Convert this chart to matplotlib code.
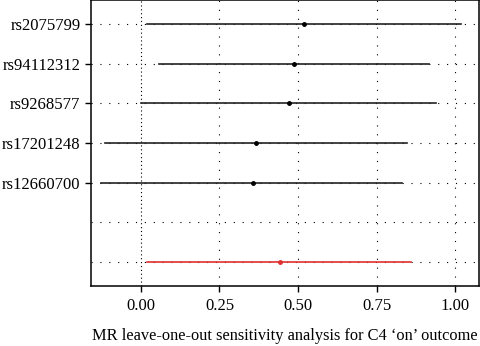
import numpy as np
import matplotlib.pyplot as plt

plt.rcParams['font.family'] = ['Liberation Serif', 'DejaVu Serif']

# SNP leave-one-out estimates (top to bottom)
snps = ['rs2075799', 'rs94112312', 'rs9268577', 'rs17201248', 'rs12660700']
est = [0.520, 0.487, 0.470, 0.366, 0.356]
lower = [0.020, 0.058, 0.000, -0.114, -0.127]
upper = [1.018, 0.918, 0.938, 0.846, 0.832]

# all SNPs combined (red)
all_est = 0.443
all_lower = 0.020
all_upper = 0.859

xticks = [0.00, 0.25, 0.50, 0.75, 1.00]

fig = plt.figure(figsize=(4.8, 3.46), dpi=100)
ax = fig.add_axes([91 / 480, 60 / 346, 388 / 480, 286 / 346])

n = len(snps)
ypos = np.arange(n + 2, 2, -1)  # 7..3
all_y = 1
rows = list(ypos) + [2, all_y]

# grid
grid_kw = dict(color='black', lw=0.8, ls=(0, (1, 7)), zorder=0)
for y in rows:
    ax.axhline(y, **grid_kw)
for x in xticks[1:]:
    ax.axvline(x, **grid_kw)
ax.axvline(0, color='black', lw=0.8, ls=(0, (1, 2.5)), zorder=0)

for y, e, lo, hi in zip(ypos, est, lower, upper):
    ax.plot([lo, hi], [y, y], color='#222222', lw=1.2, zorder=2)
    ax.plot(e, y, 'o', color='black', ms=2.5, zorder=3)

ax.plot([all_lower, all_upper], [all_y, all_y], color='#e03030', lw=1.2, zorder=2)
ax.plot(all_est, all_y, 'o', color='#e03030', ms=2.5, zorder=3)

ax.set_xlim(-0.159, 1.076)
ax.set_ylim(0.4, 7.6)
ax.set_yticks(ypos)
ax.set_yticklabels(snps, fontsize=12)
ax.set_xticks(xticks)
ax.set_xticklabels(['%.2f' % v for v in xticks], fontsize=12)
ax.tick_params(length=4, width=1, color='black')
ax.tick_params(axis='x', pad=5)
ax.set_xlabel('MR leave-one-out sensitivity analysis for C4 \u2018on\u2019 outcome',
              fontsize=11.8, labelpad=10)
for s in ax.spines.values():
    s.set_linewidth(1.1)

fig.savefig('out.png', dpi=100)
